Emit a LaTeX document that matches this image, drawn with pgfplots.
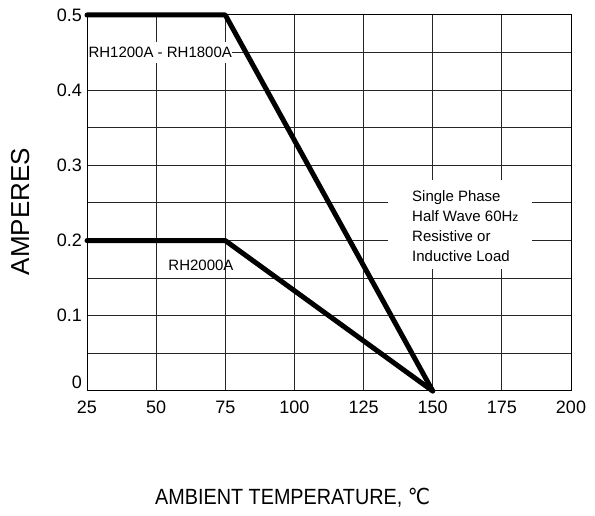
\documentclass[border=0pt]{standalone}
\usepackage{fontspec}
\setmainfont{Liberation Sans}
\newfontfamily\dejavu{DejaVu Sans}
\usepackage{pgfplots}
\pgfplotsset{compat=1.18}
\usepackage{graphicx}
\begin{document}
\begin{tikzpicture}[x=1pt,y=1pt]
\useasboundingbox (0,0) rectangle (595,516);
\begin{axis}[
 at={(87pt,125pt)}, anchor=south west,
 scale only axis, width=484pt, height=376pt,
 xmin=25, xmax=200, ymin=0, ymax=0.5,
 xtick={25,50,75,100,125,150,175,200},
 xticklabels={25,50,75,100,125,150,175,200},
 ytick={0,0.1,0.2,0.3,0.4,0.5},
 yticklabels={\raisebox{2.5pt}[0pt][0pt]{0},0.1,0.2,0.3,0.4,0.5},
 minor ytick={0.05,0.15,0.25,0.35,0.45},
 grid=both,
 major grid style={black!85, line width=1pt},
 minor grid style={black!85, line width=1pt},
 major tick length=0pt, minor tick length=0pt,
 axis line style={black, line width=1pt},
 tick label style={font=\fontsize{18}{20}\selectfont},
 xticklabel style={anchor=north, inner sep=0pt, yshift=-10pt},
 yticklabel style={anchor=east, inner sep=0pt, xshift=-5pt},
 clip=false,
]
\fill[white] (axis cs:133.8,0.1622) rectangle (axis cs:185.9,0.2806);
\node[fill=white, anchor=west, inner xsep=0.5pt, inner ysep=5pt, font=\fontsize{15}{18}\selectfont] at (axis cs:25.3,0.45) {RH1200A - RH1800A};
\node[inner sep=0pt, font=\fontsize{15}{18}\selectfont] at (axis cs:66.2,0.1676) {RH2000A};
\node[anchor=west, align=left, inner sep=0pt, font=\fontsize{15}{20}\selectfont] at (axis cs:142.5,0.2194) {Single Phase\\Half Wave 60H{\fontsize{12}{20}\selectfont z}\\Resistive or\\Inductive Load};
\addplot[black, line width=5pt, line cap=round, line join=round] coordinates {(25,0.5) (75,0.5) (150,0)};
\addplot[black, line width=5pt, line cap=round, line join=round] coordinates {(25,0.2) (75,0.2) (150,0)};
\end{axis}
\node[rotate=90, anchor=base, inner sep=0pt, font=\fontsize{26}{28}\selectfont] at (29,304.5) {AMPERES};
\node[anchor=base west, inner sep=0pt, font=\fontsize{22}{24}\selectfont] at (155,11) {\scalebox{0.9}[1]{AMBIENT TEMPERATURE, {\dejavu ℃}}};
\end{tikzpicture}
\end{document}
